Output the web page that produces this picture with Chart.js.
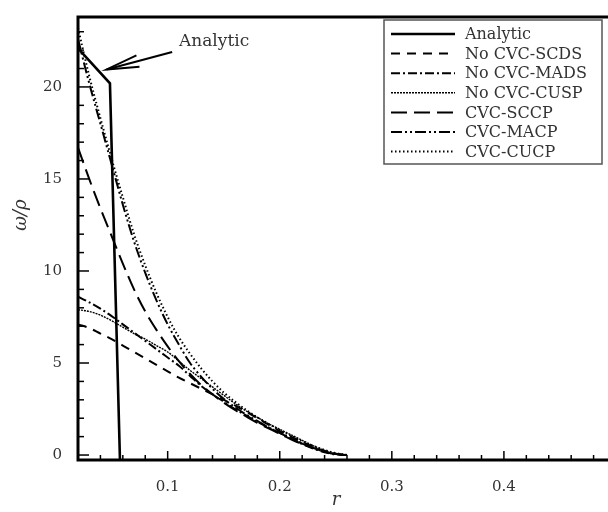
<!DOCTYPE html>
<html>
<head>
<meta charset="utf-8">
<script src="https://cdn.jsdelivr.net/npm/chart.js@4"></script>
<style>
  html, body { margin: 0; padding: 0; background: #fff; overflow: hidden; }
  #wrap { width: 608px; height: 512px; overflow: hidden; }
</style>
</head>
<body>
<div id="wrap"><canvas id="chart" width="620" height="512"></canvas></div>
<script>
// radio r comun para las curvas numericas
const rGrid = [0.02, 0.03, 0.04, 0.05, 0.06, 0.07, 0.08, 0.09, 0.10, 0.11, 0.12, 0.13,
  0.14, 0.15, 0.16, 0.17, 0.18, 0.19, 0.20, 0.21, 0.22, 0.23, 0.24, 0.25, 0.26];

// solucion analitica
const analyticR = [0.02, 0.0485, 0.0575];
const analyticY = [22.1, 20.2, -0.4];

const noCvcScds = [7.1, 6.9, 6.6, 6.3, 5.95, 5.6, 5.25, 4.9, 4.55, 4.2, 3.9, 3.6,
  3.3, 3.0, 2.7, 2.35, 2.0, 1.65, 1.3, 1.0, 0.7, 0.45, 0.22, 0.07, 0];
const noCvcMads = [8.6, 8.3, 7.95, 7.55, 7.1, 6.65, 6.2, 5.75, 5.3, 4.85, 4.3, 3.75,
  3.3, 2.9, 2.5, 2.15, 1.8, 1.5, 1.2, 0.9, 0.6, 0.35, 0.15, 0.03, 0];
const noCvcCusp = [7.9, 7.8, 7.6, 7.3, 6.95, 6.6, 6.3, 5.95, 5.6, 5.1, 4.6, 4.15,
  3.7, 3.25, 2.8, 2.4, 2.05, 1.7, 1.4, 1.1, 0.8, 0.5, 0.25, 0.08, 0];
const cvcSccp = [16.7, 15.0, 13.4, 11.9, 10.4, 9.0, 7.8, 6.8, 5.9, 5.1, 4.4, 3.8,
  3.3, 2.85, 2.45, 2.1, 1.75, 1.45, 1.15, 0.85, 0.6, 0.38, 0.18, 0.05, 0];
const cvcMacp = [22.6, 20.2, 18.0, 15.8, 13.6, 11.6, 9.9, 8.4, 7.1, 6.0, 5.0, 4.25,
  3.6, 3.05, 2.6, 2.2, 1.85, 1.5, 1.2, 0.9, 0.62, 0.38, 0.18, 0.05, 0];
const cvcCucp = [23.2, 20.6, 18.3, 16.1, 14.0, 12.0, 10.3, 8.8, 7.5, 6.4, 5.5, 4.7,
  4.0, 3.4, 2.9, 2.45, 2.05, 1.7, 1.35, 1.05, 0.75, 0.5, 0.27, 0.1, 0];

const seriesNames = ['Analytic', 'No CVC-SCDS', 'No CVC-MADS', 'No CVC-CUSP',
  'CVC-SCCP', 'CVC-MACP', 'CVC-CUCP'];

const xTicks = [0.1, 0.2, 0.3, 0.4];
const yTicks = [0, 5, 10, 15, 20];

const serif = '"DejaVu Serif", "Liberation Serif", serif';

function pts(xs, ys) {
  return xs.map((x, i) => ({ x: x, y: ys[i] }));
}

const estilos = [
  { w: 2.6, dash: [] },
  { w: 2, dash: [9, 7] },
  { w: 2, dash: [9, 3, 2, 3] },
  { w: 1.4, dash: [2, 1] },
  { w: 2, dash: [16, 7] },
  { w: 2, dash: [11, 3, 2, 3, 2, 3] },
  { w: 2, dash: [1.5, 2.5] }
];

const curvas = [pts(analyticR, analyticY), pts(rGrid, noCvcScds), pts(rGrid, noCvcMads),
  pts(rGrid, noCvcCusp), pts(rGrid, cvcSccp), pts(rGrid, cvcMacp), pts(rGrid, cvcCucp)];

const datasets = curvas.map((d, i) => ({
  label: seriesNames[i],
  data: d,
  borderColor: '#000',
  borderWidth: estilos[i].w,
  borderDash: estilos[i].dash,
  pointRadius: 0,
  tension: 0,
  cubicInterpolationMode: i === 0 ? 'default' : 'monotone'
}));

// marco, marcas hacia dentro, leyenda, titulos y flecha
const decor = {
  id: 'decor',
  afterDatasetsDraw(chart) {
    const ctx = chart.ctx;
    const a = chart.chartArea;
    const xs = chart.scales.x, ys = chart.scales.y;
    ctx.save();
    ctx.strokeStyle = '#000';
    ctx.setLineDash([]);

    // marcas eje x
    ctx.lineWidth = 1.5;
    for (let k = 1; k <= 24; k++) {
      const v = k * 0.02;
      const px = xs.getPixelForValue(v);
      if (px < a.left + 2 || px > a.right) continue;
      const major = k % 5 === 0;
      ctx.beginPath();
      ctx.moveTo(px, a.bottom);
      ctx.lineTo(px, a.bottom - (major ? 9 : 5));
      ctx.stroke();
    }
    // marcas eje y
    for (let v = 0; v <= 23; v++) {
      const py = ys.getPixelForValue(v);
      const major = v % 5 === 0;
      ctx.beginPath();
      ctx.moveTo(a.left, py);
      ctx.lineTo(a.left + (major ? 11 : 6), py);
      ctx.stroke();
    }

    // marco
    ctx.lineWidth = 3;
    ctx.beginPath();
    ctx.moveTo(a.right, a.top);
    ctx.lineTo(a.left, a.top);
    ctx.lineTo(a.left, a.bottom);
    ctx.lineTo(a.right, a.bottom);
    ctx.lineTo(a.right, a.top);
    ctx.stroke();

    // leyenda
    const lx = 384, ly = 20, lw = 218, lh = 144;
    ctx.fillStyle = '#fff';
    ctx.fillRect(lx, ly, lw, lh);
    ctx.strokeStyle = '#555';
    ctx.lineWidth = 1.5;
    ctx.strokeRect(lx, ly, lw, lh);
    ctx.font = '16px ' + serif;
    ctx.textBaseline = 'middle';
    ctx.textAlign = 'left';
    chart.data.datasets.forEach((ds, i) => {
      const y = 34 + i * 19.6;
      ctx.strokeStyle = '#000';
      ctx.lineWidth = ds.borderWidth;
      ctx.setLineDash(ds.borderDash);
      ctx.beginPath();
      ctx.moveTo(391, y);
      ctx.lineTo(455, y);
      ctx.stroke();
      ctx.setLineDash([]);
      ctx.fillStyle = '#333';
      ctx.fillText(ds.label, 465, y + 1);
    });

    // anotacion con flecha
    const tipX = xs.getPixelForValue(0.0455), tipY = ys.getPixelForValue(20.95);
    const tailX = xs.getPixelForValue(0.104), tailY = ys.getPixelForValue(21.9);
    ctx.strokeStyle = '#000';
    ctx.lineWidth = 2;
    ctx.beginPath();
    ctx.moveTo(tailX, tailY);
    ctx.lineTo(tipX, tipY);
    ctx.stroke();
    const ang = Math.atan2(tailY - tipY, tailX - tipX);
    ctx.beginPath();
    ctx.moveTo(tipX + 33 * Math.cos(ang - 0.18), tipY + 33 * Math.sin(ang - 0.18));
    ctx.lineTo(tipX, tipY);
    ctx.lineTo(tipX + 33 * Math.cos(ang + 0.18), tipY + 33 * Math.sin(ang + 0.18));
    ctx.stroke();
    ctx.fillStyle = '#333';
    ctx.font = '17px ' + serif;
    ctx.textAlign = 'left';
    ctx.fillText('Analytic', 179, 42);

    // titulos de ejes
    ctx.font = 'italic 18px ' + serif;
    ctx.textAlign = 'center';
    ctx.fillText('r', 336, 500);
    ctx.translate(21, 215);
    ctx.rotate(-Math.PI / 2);
    ctx.fillText('\u03c9/\u03c1', 0, 0);
    ctx.restore();
  }
};

new Chart(document.getElementById('chart'), {
  type: 'line',
  data: { datasets: datasets },
  options: {
    responsive: false,
    animation: false,
    layout: { padding: { left: 0, top: 12, right: 4, bottom: 0 } },
    plugins: { legend: { display: false }, tooltip: { enabled: false } },
    scales: {
      x: {
        type: 'linear',
        min: 0.02,
        max: 0.5,
        grid: { display: false },
        border: { display: false },
        afterBuildTicks: s => { s.ticks = xTicks.map(v => ({ value: v })); },
        afterFit: s => { s.height = 52; },
        ticks: {
          padding: 10,
          color: '#333',
          font: { family: serif, size: 15 },
          callback: v => v.toFixed(1),
          maxRotation: 0
        }
      },
      y: {
        type: 'linear',
        min: -0.27,
        max: 23.8,
        grid: { display: false },
        border: { display: false },
        afterBuildTicks: s => { s.ticks = yTicks.map(v => ({ value: v })); },
        afterFit: s => { s.width = 78; },
        ticks: {
          padding: 8,
          color: '#333',
          font: { family: serif, size: 15 }
        }
      }
    }
  },
  plugins: [decor]
});
</script>
</body>
</html>
